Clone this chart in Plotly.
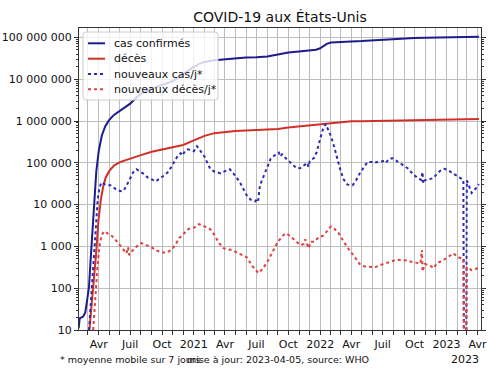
import plotly.graph_objects as go

FONT = "DejaVu Sans"

# ---------------- data ----------------
cases_dates = ["2020-02-03","2020-02-06","2020-02-16","2020-02-22","2020-02-28","2020-03-04","2020-03-08",
               "2020-03-12","2020-03-16","2020-03-20","2020-03-25","2020-04-01","2020-04-10","2020-04-20",
               "2020-05-01","2020-05-15","2020-06-01","2020-06-15","2020-07-01","2020-07-15","2020-08-01",
               "2020-09-01","2020-10-01","2020-11-01","2020-11-15","2020-12-01","2020-12-15","2021-01-01",
               "2021-01-15","2021-02-01","2021-03-01","2021-04-01","2021-05-01","2021-06-01","2021-07-01",
               "2021-08-01","2021-09-01","2021-10-01","2021-11-01","2021-12-01","2021-12-20","2022-01-01",
               "2022-01-10","2022-01-20","2022-02-01","2022-03-01","2022-04-01","2022-05-01","2022-06-01",
               "2022-07-01","2022-08-01","2022-09-01","2022-10-01","2022-11-01","2022-12-01","2023-01-01",
               "2023-02-01","2023-03-01","2023-04-05"]
cases_total = [11, 19, 21, 26, 55, 110, 400,
               1500, 4500, 17000, 62000, 190000, 450000, 750000,
               1050000, 1400000, 1750000, 2050000, 2600000, 3400000, 4500000,
               5950000, 7150000, 9000000, 10800000, 13300000, 16500000, 19800000,
               23000000, 25900000, 28400000, 30300000, 32200000, 33100000, 33500000,
               34800000, 39000000, 43300000, 45800000, 48200000, 50800000, 55000000,
               62000000, 70000000, 75500000, 79000000, 80200000, 81500000, 84500000,
               87700000, 91500000, 94700000, 96500000, 97700000, 99000000, 101000000,
               102500000, 103500000, 104000000]

deaths_dates = ["2020-03-05","2020-03-12","2020-03-19","2020-03-24","2020-03-31","2020-04-07","2020-04-14",
                "2020-04-21","2020-05-01","2020-05-15","2020-06-01","2020-07-01","2020-08-01","2020-09-01",
                "2020-10-01","2020-11-01","2020-12-01","2021-01-01","2021-02-01","2021-03-01","2021-04-01",
                "2021-05-01","2021-06-01","2021-07-01","2021-08-01","2021-09-01","2021-10-01","2021-11-01",
                "2021-12-01","2022-01-01","2022-02-01","2022-03-01","2022-04-01","2022-05-01","2022-06-01",
                "2022-07-01","2022-08-01","2022-09-01","2022-10-01","2022-11-01","2022-12-01","2023-01-01",
                "2023-02-01","2023-03-01","2023-04-05"]
deaths_total = [10, 40, 150, 600, 4000, 13000, 27000,
                44000, 63000, 86000, 104000, 127000, 153000, 183000,
                205000, 229000, 267000, 345000, 440000, 512000, 550000,
                573000, 593000, 604000, 613000, 640000, 697000, 743000,
                778000, 823000, 885000, 948000, 980000, 993000, 1004000,
                1015000, 1028000, 1043000, 1057000, 1069000, 1081000, 1093000,
                1108000, 1118000, 1124000]

new_cases_dates = ["2020-03-04","2020-03-09","2020-03-14","2020-03-19","2020-03-24","2020-03-29","2020-04-03",
                   "2020-04-09","2020-04-17","2020-04-25","2020-05-05","2020-05-15","2020-05-25","2020-06-05",
                   "2020-06-12","2020-06-20","2020-07-01","2020-07-10","2020-07-19","2020-07-28","2020-08-08",
                   "2020-08-20","2020-09-01","2020-09-14","2020-09-25","2020-10-08","2020-10-20","2020-11-03",
                   "2020-11-15","2020-11-24","2020-11-29","2020-12-06","2020-12-15","2020-12-25","2021-01-01",
                   "2021-01-10","2021-01-20","2021-02-01","2021-02-10","2021-02-18","2021-03-01","2021-03-19",
                   "2021-04-05","2021-04-15","2021-04-30","2021-05-15","2021-06-04","2021-06-15","2021-06-28",
                   "2021-07-03","2021-07-06","2021-07-10","2021-07-15","2021-07-20","2021-08-01","2021-08-11",
                   "2021-08-22","2021-09-04","2021-09-08","2021-09-13","2021-09-25","2021-10-10","2021-10-25",
                   "2021-11-05","2021-11-15","2021-11-25","2021-11-28","2021-12-02","2021-12-14","2021-12-22",
                   "2022-01-01","2022-01-08","2022-01-17","2022-01-24","2022-02-02","2022-02-10","2022-02-20",
                   "2022-03-01","2022-03-10","2022-03-21","2022-04-05","2022-04-15","2022-04-25","2022-05-05",
                   "2022-05-18","2022-06-01","2022-06-06","2022-06-20","2022-07-05","2022-07-10","2022-07-20",
                   "2022-07-30","2022-08-10","2022-08-25","2022-09-11","2022-09-25","2022-10-10","2022-10-20",
                   "2022-10-24","2022-10-26","2022-10-30","2022-11-10","2022-11-24","2022-12-05","2022-12-15",
                   "2022-12-25","2023-01-05","2023-01-14","2023-01-25","2023-02-05","2023-02-12","2023-02-19",
                   "2023-02-21","2023-02-27","2023-03-01","2023-03-15","2023-03-28","2023-04-05"]
new_cases = [10, 45, 220, 1100, 4500, 13000, 25000,
             34000, 31000, 29000, 29000, 25000, 22000, 21000,
             21500, 28000, 45000, 60000, 70000, 64000, 55000,
             45000, 40000, 36000, 43000, 50000, 62000, 95000,
             145000, 170000, 150000, 190000, 210000, 200000, 190000,
             250000, 190000, 140000, 95000, 70000, 62000, 56000,
             65000, 70000, 50000, 33000, 16000, 13000, 12000,
             14000, 12500, 25000, 35000, 45000, 80000, 125000,
             150000, 175000, 140000, 160000, 125000, 95000, 74000,
             75000, 85000, 100000, 80000, 110000, 130000, 180000,
             370000, 600000, 850000, 650000, 420000, 250000, 120000,
             65000, 40000, 30000, 29000, 38000, 55000, 75000,
             105000, 105000, 100000, 105000, 110000, 100000, 125000,
             128000, 110000, 92000, 74000, 55000, 43000, 39000,
             60000, 32000, 38000, 40000, 43000, 55000, 65000,
             72000, 68000, 60000, 52000, 45000, 42000, 39000,
             1, 1, 38000, 19000, 25000, 31000]

new_deaths_dates = ["2020-03-16","2020-03-22","2020-03-28","2020-04-03","2020-04-09","2020-04-16","2020-04-24",
                    "2020-05-02","2020-05-10","2020-05-18","2020-05-27","2020-06-06","2020-06-14","2020-06-20",
                    "2020-06-25","2020-06-28","2020-07-05","2020-07-15","2020-07-25","2020-08-03","2020-08-15",
                    "2020-09-01","2020-09-15","2020-10-01","2020-10-15","2020-10-30","2020-11-10","2020-11-20",
                    "2020-12-01","2020-12-10","2020-12-20","2021-01-01","2021-01-15","2021-01-22","2021-02-01",
                    "2021-02-17","2021-03-01","2021-03-15","2021-03-28","2021-04-10","2021-04-25","2021-05-10",
                    "2021-06-03","2021-06-20","2021-07-07","2021-07-20","2021-08-01","2021-08-15","2021-09-01",
                    "2021-09-18","2021-09-25","2021-10-05","2021-10-20","2021-11-05","2021-11-15","2021-11-19",
                    "2021-11-29","2021-12-05","2021-12-15","2021-12-28","2022-01-10","2022-01-22","2022-02-01",
                    "2022-02-12","2022-02-24","2022-03-10","2022-03-25","2022-04-14","2022-04-25","2022-05-10",
                    "2022-05-25","2022-06-10","2022-06-25","2022-07-10","2022-07-25","2022-08-10","2022-08-25",
                    "2022-09-10","2022-09-25","2022-10-10","2022-10-18","2022-10-22","2022-10-24","2022-10-30",
                    "2022-11-15","2022-11-25","2022-12-05","2022-12-20","2023-01-05","2023-01-21","2023-02-05",
                    "2023-02-19","2023-02-21","2023-02-27","2023-03-01","2023-03-15","2023-03-28","2023-04-05"]
new_deaths = [10, 60, 300, 1000, 1800, 2300, 2100,
              2000, 1750, 1500, 1200, 950, 800, 680,
              950, 620, 750, 900, 1100, 1200, 1100,
              950, 800, 710, 720, 850, 1150, 1600,
              1900, 2400, 2700, 2800, 3400, 3300, 3000,
              2600, 1900, 1200, 900, 850, 800, 680,
              550, 330, 230, 300, 420, 700, 1300,
              1900, 2050, 1800, 1400, 1080, 1150, 1470,
              900, 1300, 1300, 1650, 1800, 2400, 3000,
              2600, 2050, 1300, 850, 520, 380, 330,
              330, 320, 360, 400, 430, 480, 470,
              460, 420, 400, 390, 820, 250, 380,
              350, 300, 400, 450, 550, 680, 550,
              500, 1, 1, 320, 270, 290, 330]

y_tick_values = [10, 100, 1000, 10000, 100000, 1000000, 10000000, 100000000]
y_tick_labels = ["10", "100", "1 000", "10 000", "100 000", "1 000 000", "10 000 000", "100 000 000"]
x_tick_values = ["2020-04-01", "2020-07-01", "2020-10-01", "2021-01-01", "2021-04-01", "2021-07-01",
                 "2021-10-01", "2022-01-01", "2022-04-01", "2022-07-01", "2022-10-01", "2023-01-01", "2023-04-01"]
x_tick_labels = ["Avr", "Juil", "Oct", "2021", "Avr", "Juil", "Oct", "2022", "Avr", "Juil", "Oct", "2023", "Avr"]
series_names = ["cas confirmés", "décès", "nouveaux cas/j*", "nouveaux décès/j*"]

# ---------------- styles ----------------
C_CASES = "#1c1c8c"
C_DEATHS = "#d0302a"
C_NCASES = "#2a2ab4"
C_NDEATHS = "#e04040"
GRID = "#bdbdbd"
AXIS = "#333333"
colors = [C_CASES, C_DEATHS, C_NCASES, C_NDEATHS]
dashes = ["solid", "solid", "dot", "dot"]

W, H = 500, 375
L, R, T, B = 79, 19, 28, 45
PW, PH = W - L - R, H - T - B


def px_x(p):
    return (p - L) / PW


def px_y(p):
    return (H - B - p) / PH


fig = go.Figure()
for xs, ys, nm, c, d in zip([cases_dates, deaths_dates, new_cases_dates, new_deaths_dates],
                            [cases_total, deaths_total, new_cases, new_deaths],
                            series_names, colors, dashes):
    fig.add_trace(go.Scatter(x=xs, y=ys, mode="lines", name=nm, showlegend=False,
                             line=dict(color=c, width=2, dash=d)))

minor_y = [m * 10 ** e for e in range(0, 9) for m in range(2, 10)]

fig.update_layout(
    width=W, height=H,
    margin=dict(l=L, r=R, t=T, b=B, autoexpand=False),
    paper_bgcolor="white", plot_bgcolor="white",
    font=dict(family=FONT, size=11, color="#111111"),
    title=dict(text="COVID-19 aux États-Unis", x=0.5, xref="paper", xanchor="center",
               y=1 - 17 / H, yref="container", yanchor="middle",
               font=dict(size=14, family=FONT, color="#111111")),
    xaxis=dict(type="date", range=["2020-02-04", "2023-04-11"], automargin=False,
               tickmode="array", tickvals=x_tick_values, ticktext=x_tick_labels,
               ticks="outside", ticklen=4, tickcolor=AXIS, tickwidth=1,
               showgrid=True, gridcolor=GRID, gridwidth=1.2,
               minor=dict(dtick="M1", tick0="2020-01-01", ticks="outside", ticklen=4,
                          tickcolor=AXIS, showgrid=True, gridcolor=GRID, gridwidth=1.2),
               showline=True, linecolor=AXIS, linewidth=1, mirror=True,
               tickfont=dict(size=11), zeroline=False),
    yaxis=dict(type="log", range=[1, 8.225], automargin=False,
               tickmode="array", tickvals=y_tick_values, ticktext=y_tick_labels,
               ticks="outside", ticklen=4, tickcolor=AXIS,
               minor=dict(tickmode="array", tickvals=minor_y, ticks="outside", ticklen=2,
                          tickcolor=AXIS, showgrid=False),
               showgrid=True, gridcolor=GRID, gridwidth=1.2,
               showline=True, linecolor=AXIS, linewidth=1, mirror="ticks",
               tickfont=dict(size=11), zeroline=False),
    showlegend=False,
)

# legend box (matplotlib-style, top-left inside the axes)
bx0, bx1, by0, by1, rr = px_x(83), px_x(218), px_y(100), px_y(32), 3
rx, ry = rr / PW, rr / PH
path = (f"M{bx0+rx},{by0} L{bx1-rx},{by0} Q{bx1},{by0} {bx1},{by0+ry} "
        f"L{bx1},{by1-ry} Q{bx1},{by1} {bx1-rx},{by1} L{bx0+rx},{by1} "
        f"Q{bx0},{by1} {bx0},{by1-ry} L{bx0},{by0+ry} Q{bx0},{by0} {bx0+rx},{by0} Z")
fig.add_shape(type="path", path=path, xref="paper", yref="paper", layer="above",
              fillcolor="rgba(255,255,255,0.8)", line=dict(color="#cccccc", width=1))
row_y = [43.3, 58.7, 74.0, 89.3]
for ry_px, nm, c, d in zip(row_y, series_names, colors, dashes):
    fig.add_shape(type="line", xref="paper", yref="paper", layer="above",
                  x0=px_x(88), x1=px_x(105), y0=px_y(ry_px), y1=px_y(ry_px),
                  line=dict(color=c, width=2, dash=d))
    fig.add_annotation(text=nm, xref="paper", yref="paper", x=px_x(111.5), y=px_y(ry_px),
                       xanchor="left", yanchor="middle", showarrow=False,
                       font=dict(size=11, family=FONT, color="#111111"))

fig.add_annotation(text="* moyenne mobile sur 7 jours", xref="paper", yref="paper",
                   x=px_x(58), y=px_y(359), xanchor="left", yanchor="middle",
                   showarrow=False, font=dict(size=9.5, family=FONT, color="#111111"))
fig.add_annotation(text="mise à jour: 2023-04-05, source: WHO", xref="paper", yref="paper",
                   x=px_x(185), y=px_y(359), xanchor="left", yanchor="middle",
                   showarrow=False, font=dict(size=9.5, family=FONT, color="#111111"))
fig.add_annotation(text="2023", xref="paper", yref="paper",
                   x=1.0, y=px_y(359), xanchor="right", yanchor="middle",
                   showarrow=False, font=dict(size=11, family=FONT, color="#111111"))

fig.write_html("out.html", config={"displayModeBar": False},
               post_script="document.body.style.margin='0';")
